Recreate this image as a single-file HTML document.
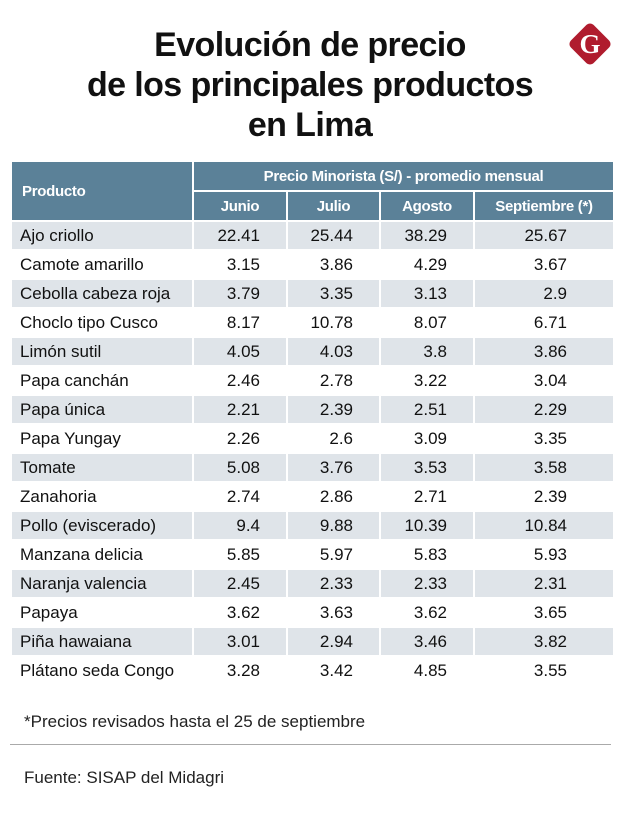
<!DOCTYPE html>
<html><head><meta charset="utf-8"><style>
body{margin:0;width:620px;height:814px;background:#fff;font-family:"Liberation Sans",sans-serif;position:relative;overflow:hidden}
#title{position:absolute;left:0;width:620px;top:25px;text-align:center;font-weight:bold;font-size:34px;line-height:40px;color:#111;letter-spacing:-0.6px}
#logo{position:absolute;left:574px;top:28px;width:32px;height:32px;background:#b01c2e;transform:rotate(45deg);border-radius:5px}
#logoG{position:absolute;left:572px;top:26px;width:36px;height:36px;line-height:36px;text-align:center;color:#fff;font-weight:bold;font-size:27px;font-family:"Liberation Serif",serif}
table{position:absolute;left:10px;top:160px;border-collapse:collapse;font-size:17px;color:#111}
td,th{border:2px solid #fff;padding:0;height:27px}
th{background:#5b8198;color:#fff;font-size:15px;letter-spacing:-0.3px;height:28px}
tr.g td{background:#dfe4e9}
td.p{padding-left:8px;width:172px}
td.n{text-align:right;padding-right:26px}
td.s{text-align:right;padding-right:46px}
#note{position:absolute;left:24px;top:712px;font-size:17px;color:#222}
#line{position:absolute;left:10px;top:744px;width:601px;height:1px;background:#aaa}
#src{position:absolute;left:24px;top:768px;font-size:17px;color:#222}
</style></head><body>
<div id="title">Evolución de precio<br>de los principales productos<br>en Lima</div>
<div id="logo"></div>
<div id="logoG">G</div>
<table>
<tr><th rowspan="2" style="text-align:left;padding-left:10px;width:168px">Producto</th><th colspan="4">Precio Minorista (S/) - promedio mensual</th></tr>
<tr><th style="width:92px">Junio</th><th style="width:91px">Julio</th><th style="width:92px">Agosto</th><th style="width:138px">Septiembre (*)</th></tr>
<tbody id="body"></tbody>
</table>
<div id="note">*Precios revisados hasta el 25 de septiembre</div>
<div id="line"></div>
<div id="src">Fuente: SISAP del Midagri</div>
<script>
const products=["Ajo criollo","Camote amarillo","Cebolla cabeza roja","Choclo tipo Cusco","Limón sutil","Papa canchán","Papa única","Papa Yungay","Tomate","Zanahoria","Pollo (eviscerado)","Manzana delicia","Naranja valencia","Papaya","Piña hawaiana","Plátano seda Congo"];
const junio=["22.41","3.15","3.79","8.17","4.05","2.46","2.21","2.26","5.08","2.74","9.4","5.85","2.45","3.62","3.01","3.28"];
const julio=["25.44","3.86","3.35","10.78","4.03","2.78","2.39","2.6","3.76","2.86","9.88","5.97","2.33","3.63","2.94","3.42"];
const agosto=["38.29","4.29","3.13","8.07","3.8","3.22","2.51","3.09","3.53","2.71","10.39","5.83","2.33","3.62","3.46","4.85"];
const septiembre=["25.67","3.67","2.9","6.71","3.86","3.04","2.29","3.35","3.58","2.39","10.84","5.93","2.31","3.65","3.82","3.55"];
const tb=document.getElementById('body');
products.forEach((p,i)=>{
 const tr=document.createElement('tr');
 
 
 if(i%2===0)tr.className='g';
 const cells=[[p,'p'],[junio[i],'n'],[julio[i],'n'],[agosto[i],'n'],[septiembre[i],'s']];
 cells.forEach((c,j)=>{
  const td=document.createElement('td');
  
  
  td.className=c[1];td.textContent=c[0];tr.appendChild(td);
 });
 tb.appendChild(tr);
});
</script>
</body></html>
